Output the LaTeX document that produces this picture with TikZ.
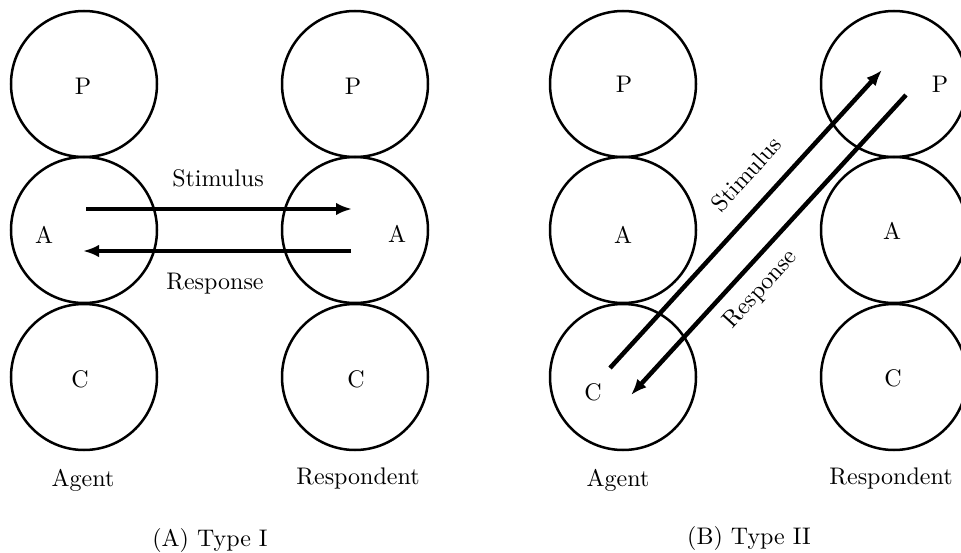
\documentclass[tikz,border=0pt]{standalone}
\usepackage{tikz}
\usetikzlibrary{arrows.meta,positioning}
\tikzset{
  egostate/.style={draw, circle, line width=1pt, minimum size=58.4pt, inner sep=0pt},
  statelbl/.style={font=\fontsize{9.6}{11}\selectfont},
  flow/.style={line width=1.8pt, -{Latex[length=6.4pt,width=5pt]}},
}

\begin{document}
\begin{tikzpicture}[x=0.4pt,y=-0.4pt]
  \useasboundingbox (0,0) rectangle (961,553);

  % (A) Type I
  \node[egostate] (agP1) at (84,84) {};
  \node[egostate] (agA1) at (84,230) {};
  \node[egostate] (agC1) at (84,377) {};
  \node[egostate] (reP1) at (355,84) {};
  \node[egostate] (reA1) at (355,230) {};
  \node[egostate] (reC1) at (355,377) {};
  \node[statelbl] (agPl1) at (83,86) {P};
  \node[statelbl] (agAl1) at (44,235) {A};
  \node[statelbl] (agCl1) at (80,379) {C};
  \node[statelbl] (rePl1) at (353,86) {P};
  \node[statelbl] (reAl1) at (397,234) {A};
  \node[statelbl] (reCl1) at (356,379) {C};
  \coordinate (stA1) at (86,209);
  \coordinate (stB1) at (352,209);
  \coordinate (rsA1) at (351,251);
  \coordinate (rsB1) at (83,251);
  \draw[flow] (stA1) -- (stB1);
  \draw[flow] (rsA1) -- (rsB1);
  \node[statelbl] (stim1) at (218,178) {Stimulus};
  \node[statelbl] (resp1) at (215,284) {Response};
  \node[statelbl] (agent1) at (83,480) {Agent};
  \node[statelbl] (respo1) at (358,478) {Respondent};
  \node[statelbl] (type1) at (210,540) {(A) Type I};

  % (B) Type II
  \node[egostate] (agP2) at (623,84) {};
  \node[egostate] (agA2) at (623,230) {};
  \node[egostate] (agC2) at (623,377) {};
  \node[egostate] (reP2) at (894,84) {};
  \node[egostate] (reA2) at (894,230) {};
  \node[egostate] (reC2) at (894,377) {};
  \node[statelbl] (agPl2) at (624,84) {P};
  \node[statelbl] (agAl2) at (623,235) {A};
  \node[statelbl] (agCl2) at (593,392) {C};
  \node[statelbl] (rePl2) at (940,84) {P};
  \node[statelbl] (reAl2) at (892,231) {A};
  \node[statelbl] (reCl2) at (893,378) {C};
  \coordinate (stA2) at (610,368);
  \coordinate (stB2) at (882,70);
  \coordinate (rsA2) at (906,95);
  \coordinate (rsB2) at (631,395);
  \draw[flow] (stA2) -- (stB2);
  \draw[flow] (rsA2) -- (rsB2);
  \node[statelbl, rotate=47.6] (stim2) at (746,174) {Stimulus};
  \node[statelbl, rotate=47.6] (resp2) at (761,290) {Response};
  \node[statelbl] (agent2) at (618,480) {Agent};
  \node[statelbl] (respo2) at (891,478) {Respondent};
  \node[statelbl] (type2) at (749,538) {(B) Type II};
\end{tikzpicture}
\end{document}
